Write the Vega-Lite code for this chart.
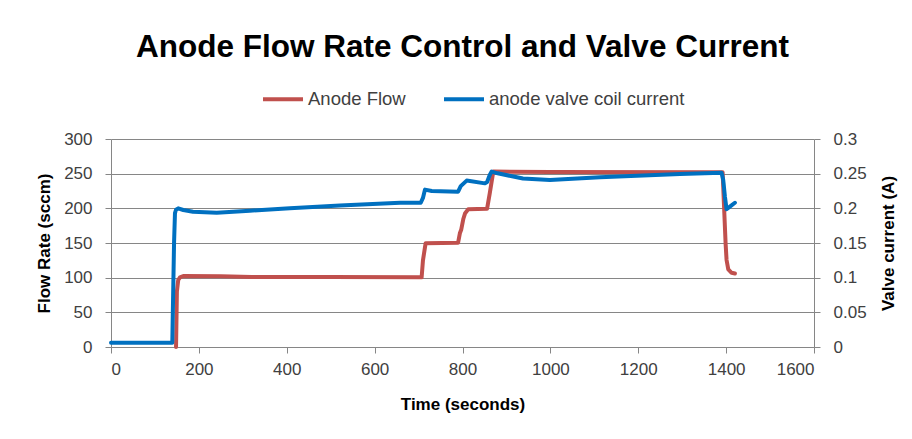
{
  "$schema": "https://vega.github.io/schema/vega-lite/v6.json",
  "width": 703,
  "height": 208,
  "autosize": {"type": "none"},
  "padding": {"left": 111, "top": 139, "right": 98, "bottom": 92},
  "background": "white",
  "title": {
    "text": "Anode Flow Rate Control and Valve Current",
    "font": "Liberation Sans",
    "fontSize": 31.5,
    "fontWeight": "bold",
    "color": "#000000",
    "anchor": "middle",
    "frame": "group",
    "offset": 14
  },
  "config": {
    "view": {"stroke": null},
    "font": "Liberation Sans",
    "axis": {
      "labelFont": "Liberation Sans",
      "labelFontSize": 17,
      "labelColor": "#404040",
      "titleFont": "Liberation Sans",
      "titleFontSize": 17,
      "titleFontWeight": "bold",
      "titleColor": "#000000",
      "domainColor": "#868686",
      "tickColor": "#868686",
      "gridColor": "#868686",
      "gridOpacity": 1,
      "tickSize": 6,
      "domainWidth": 1,
      "tickWidth": 1,
      "gridWidth": 1
    },
    "legend": {
      "labelFont": "Liberation Sans",
      "labelFontSize": 18.5,
      "labelColor": "#404040",
      "labelLimit": 400
    }
  },
  "data": {
    "values": [
      {"series": "Anode Flow", "t": 148, "v": 0},
      {"series": "Anode Flow", "t": 149, "v": 40},
      {"series": "Anode Flow", "t": 150, "v": 80},
      {"series": "Anode Flow", "t": 153, "v": 96.6},
      {"series": "Anode Flow", "t": 157, "v": 100.5},
      {"series": "Anode Flow", "t": 164.5, "v": 102.4},
      {"series": "Anode Flow", "t": 250, "v": 102},
      {"series": "Anode Flow", "t": 320, "v": 101},
      {"series": "Anode Flow", "t": 500, "v": 100.8},
      {"series": "Anode Flow", "t": 707, "v": 100.5},
      {"series": "Anode Flow", "t": 710, "v": 125},
      {"series": "Anode Flow", "t": 716, "v": 149.5},
      {"series": "Anode Flow", "t": 790, "v": 150.5},
      {"series": "Anode Flow", "t": 794, "v": 164},
      {"series": "Anode Flow", "t": 797, "v": 169},
      {"series": "Anode Flow", "t": 802, "v": 185},
      {"series": "Anode Flow", "t": 806, "v": 193},
      {"series": "Anode Flow", "t": 813, "v": 198.6},
      {"series": "Anode Flow", "t": 856, "v": 199.5},
      {"series": "Anode Flow", "t": 862, "v": 221.6},
      {"series": "Anode Flow", "t": 870, "v": 253},
      {"series": "Anode Flow", "t": 1000, "v": 252.5},
      {"series": "Anode Flow", "t": 1392, "v": 252},
      {"series": "Anode Flow", "t": 1395.6, "v": 197.6},
      {"series": "Anode Flow", "t": 1398.8, "v": 149.5},
      {"series": "Anode Flow", "t": 1401, "v": 125.5},
      {"series": "Anode Flow", "t": 1404.9, "v": 112},
      {"series": "Anode Flow", "t": 1412.5, "v": 107},
      {"series": "Anode Flow", "t": 1420, "v": 106},
      {"series": "anode valve coil current", "t": 0, "v": 0.0062},
      {"series": "anode valve coil current", "t": 139.5, "v": 0.0062},
      {"series": "anode valve coil current", "t": 141, "v": 0.06},
      {"series": "anode valve coil current", "t": 143.5, "v": 0.15},
      {"series": "anode valve coil current", "t": 145.6, "v": 0.193},
      {"series": "anode valve coil current", "t": 148, "v": 0.198},
      {"series": "anode valve coil current", "t": 153, "v": 0.2},
      {"series": "anode valve coil current", "t": 164.5, "v": 0.1976},
      {"series": "anode valve coil current", "t": 186.6, "v": 0.195},
      {"series": "anode valve coil current", "t": 240.6, "v": 0.1937},
      {"series": "anode valve coil current", "t": 316, "v": 0.1966},
      {"series": "anode valve coil current", "t": 407, "v": 0.2},
      {"series": "anode valve coil current", "t": 521, "v": 0.204},
      {"series": "anode valve coil current", "t": 658, "v": 0.208},
      {"series": "anode valve coil current", "t": 705, "v": 0.208},
      {"series": "anode valve coil current", "t": 710, "v": 0.215},
      {"series": "anode valve coil current", "t": 714.6, "v": 0.227},
      {"series": "anode valve coil current", "t": 730, "v": 0.225},
      {"series": "anode valve coil current", "t": 790, "v": 0.224},
      {"series": "anode valve coil current", "t": 796, "v": 0.232},
      {"series": "anode valve coil current", "t": 809.5, "v": 0.24},
      {"series": "anode valve coil current", "t": 851, "v": 0.236},
      {"series": "anode valve coil current", "t": 856, "v": 0.238},
      {"series": "anode valve coil current", "t": 862, "v": 0.248},
      {"series": "anode valve coil current", "t": 866.4, "v": 0.253},
      {"series": "anode valve coil current", "t": 880, "v": 0.2505},
      {"series": "anode valve coil current", "t": 910, "v": 0.2466},
      {"series": "anode valve coil current", "t": 937.6, "v": 0.243},
      {"series": "anode valve coil current", "t": 999, "v": 0.241},
      {"series": "anode valve coil current", "t": 1113, "v": 0.245},
      {"series": "anode valve coil current", "t": 1295, "v": 0.2495},
      {"series": "anode valve coil current", "t": 1389.6, "v": 0.2514},
      {"series": "anode valve coil current", "t": 1393.4, "v": 0.241},
      {"series": "anode valve coil current", "t": 1397.3, "v": 0.2168},
      {"series": "anode valve coil current", "t": 1401, "v": 0.1986},
      {"series": "anode valve coil current", "t": 1408.6, "v": 0.2024},
      {"series": "anode valve coil current", "t": 1420, "v": 0.208}
    ]
  },
  "encoding": {
    "x": {
      "field": "t",
      "type": "quantitative",
      "scale": {"domain": [0, 1600], "nice": false},
      "axis": {
        "title": "Time (seconds)",
        "values": [0, 200, 400, 600, 800, 1000, 1200, 1400, 1600],
        "format": "d",
        "grid": false,
        "labelPadding": 8,
        "titlePadding": 19
      }
    },
    "color": {
      "field": "series",
      "type": "nominal",
      "scale": {
        "domain": ["Anode Flow", "anode valve coil current"],
        "range": ["#C0504D", "#0070C0"]
      },
      "legend": {
        "title": null,
        "orient": "none",
        "direction": "horizontal",
        "legendX": 150,
        "legendY": -62,
        "symbolType": "stroke",
        "symbolSize": 1600,
        "symbolStrokeWidth": 4,
        "labelOffset": 3,
        "columnPadding": 30
      }
    }
  },
  "layer": [
    {
      "transform": [{"filter": "datum.series == 'Anode Flow'"}],
      "mark": {"type": "line", "strokeWidth": 4, "strokeJoin": "round", "strokeCap": "round"},
      "encoding": {
        "y": {
          "field": "v",
          "type": "quantitative",
          "scale": {"domain": [0, 300], "nice": false},
          "axis": {
            "title": "Flow Rate (sccm)",
            "orient": "left",
            "values": [0, 50, 100, 150, 200, 250, 300],
            "grid": true,
            "labelPadding": 13,
            "titlePadding": 10
          }
        }
      }
    },
    {
      "transform": [{"filter": "datum.series == 'anode valve coil current'"}],
      "mark": {"type": "line", "strokeWidth": 4, "strokeJoin": "round", "strokeCap": "round"},
      "encoding": {
        "y": {
          "field": "v",
          "type": "quantitative",
          "scale": {"domain": [0, 0.3], "nice": false},
          "axis": {
            "title": "Valve current (A)",
            "orient": "right",
            "titleAngle": 270,
            "titleBaseline": "top",
            "values": [0, 0.05, 0.1, 0.15, 0.2, 0.25, 0.3],
            "format": ".2~f",
            "grid": false,
            "labelPadding": 13,
            "titlePadding": 14
          }
        }
      }
    }
  ],
  "resolve": {"scale": {"y": "independent"}}
}
